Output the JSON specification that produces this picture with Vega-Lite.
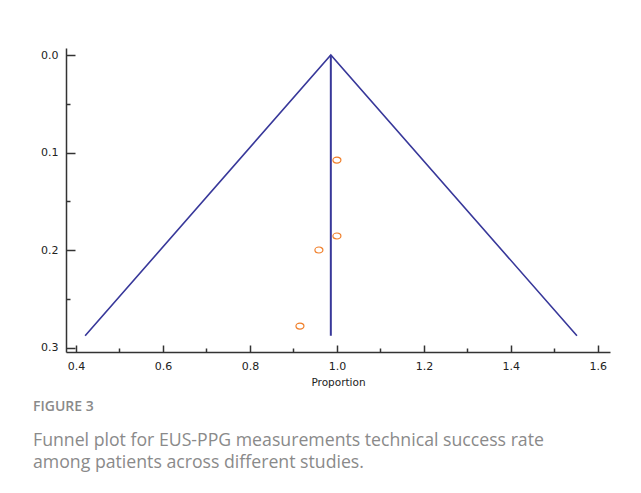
{
  "$schema": "https://vega.github.io/schema/vega-lite/v6.json",
  "width": 544,
  "height": 304,
  "autosize": {"type": "none"},
  "padding": {"left": 66, "top": 48, "right": 31, "bottom": 141},
  "background": "white",
  "config": {
    "view": {"stroke": null},
    "axis": {
      "labelFont": "DejaVu Sans",
      "labelFontSize": 11,
      "labelColor": "#222222",
      "titleFont": "DejaVu Sans",
      "titleFontSize": 10.5,
      "titleFontWeight": "normal",
      "titleColor": "#222222",
      "domainColor": "#333333",
      "domainWidth": 1.5,
      "tickColor": "#333333",
      "tickWidth": 1.5,
      "grid": false
    }
  },
  "title": {
    "text": "FIGURE 3",
    "subtitle": ["Funnel plot for EUS-PPG measurements technical success rate", "among patients across different studies."],
    "orient": "bottom",
    "anchor": "start",
    "frame": "group",
    "dx": -33,
    "offset": 12,
    "font": "Open Sans",
    "fontSize": 14,
    "fontWeight": 600,
    "color": "#8a8a8a",
    "subtitleFont": "Open Sans",
    "subtitleFontSize": 17.7,
    "subtitleColor": "#8a8a8a",
    "subtitleLineHeight": 22,
    "subtitlePadding": 18
  },
  "datasets": {
    "funnel": [
      {"x": 0.421, "y": 0.288, "order": 1},
      {"x": 0.986, "y": 0.0, "order": 2},
      {"x": 1.552, "y": 0.288, "order": 3}
    ],
    "center": [
      {"x": 0.986, "y": 0.0},
      {"x": 0.986, "y": 0.288}
    ],
    "studies": [
      {"proportion": 1.0, "se": 0.1077},
      {"proportion": 1.0, "se": 0.1856},
      {"proportion": 0.9586, "se": 0.2},
      {"proportion": 0.915, "se": 0.278}
    ]
  },
  "layer": [
    {
      "data": {"name": "funnel"},
      "mark": {"type": "line", "color": "#38389a", "strokeWidth": 1.6},
      "encoding": {
        "x": {
          "field": "x", "type": "quantitative",
          "scale": {"domain": [0.377, 1.628], "nice": false, "zero": false},
          "axis": {
            "title": "Proportion",
            "values": [0.4, 0.5, 0.6, 0.7, 0.8, 0.9, 1.0, 1.1, 1.2, 1.3, 1.4, 1.5, 1.6],
            "labelExpr": "abs(datum.value*5 - round(datum.value*5)) < 0.001 ? format(datum.value, '.1f') : ''",
            "tickSize": {"condition": {"test": "abs(datum.value*5 - round(datum.value*5)) < 0.001", "value": -7}, "value": -4},
            "labelPadding": 15,
            "titlePadding": 6
          }
        },
        "y": {
          "field": "y", "type": "quantitative",
          "scale": {"domain": [-0.0072, 0.3046], "nice": false, "zero": false, "reverse": true},
          "axis": {
            "title": null,
            "values": [0, 0.05, 0.1, 0.15, 0.2, 0.25, 0.3],
            "labelExpr": "abs(datum.value*10 - round(datum.value*10)) < 0.001 ? format(datum.value, '.1f') : ''",
            "tickSize": {"condition": {"test": "abs(datum.value*10 - round(datum.value*10)) < 0.001", "value": -9}, "value": -4},
            "labelPadding": 17
          }
        },
        "order": {"field": "order"}
      }
    },
    {
      "data": {"name": "center"},
      "mark": {"type": "line", "color": "#38389a", "strokeWidth": 2},
      "encoding": {
        "x": {"field": "x", "type": "quantitative"},
        "y": {"field": "y", "type": "quantitative"}
      }
    },
    {
      "data": {"name": "studies"},
      "mark": {
        "type": "point",
        "shape": "M-1,0A1,0.75,0,1,1,1,0A1,0.75,0,1,1,-1,0Z",
        "size": 64,
        "filled": false,
        "color": "#f07f2a",
        "strokeWidth": 1.2,
        "opacity": 1
      },
      "encoding": {
        "x": {"field": "proportion", "type": "quantitative"},
        "y": {"field": "se", "type": "quantitative"}
      }
    }
  ]
}
